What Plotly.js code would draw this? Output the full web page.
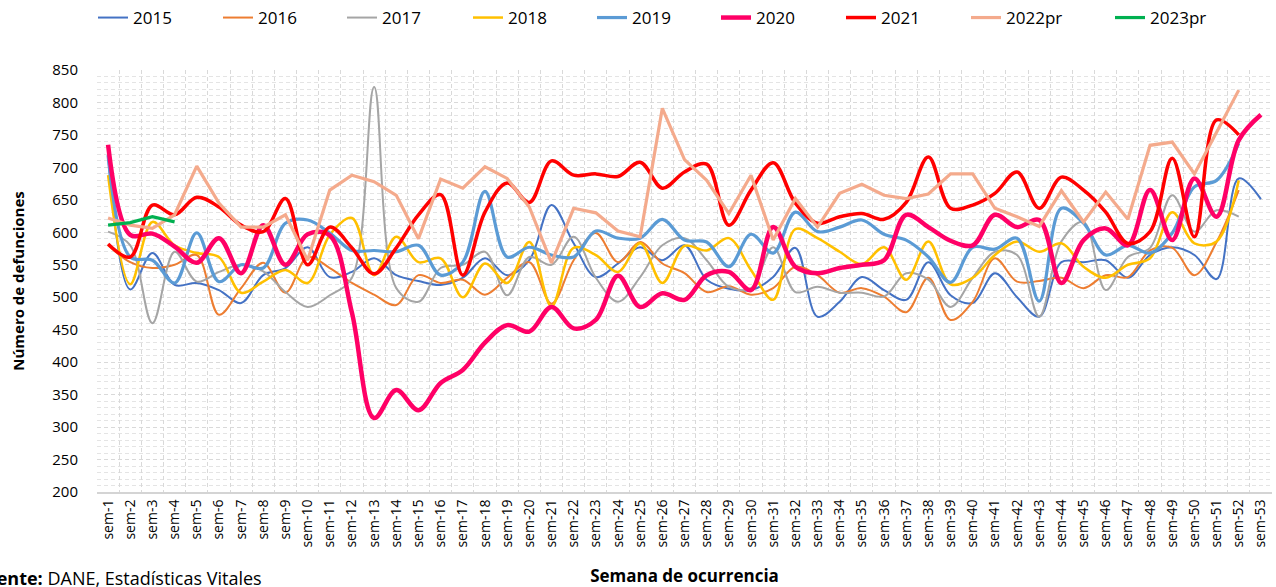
<!DOCTYPE html>
<html><head><meta charset="utf-8">
<script src="https://cdn.plot.ly/plotly-3.0.1.min.js"></script>
<style>html,body{margin:0;padding:0;background:#fff}#chart{width:1276px;height:587px}</style>
</head><body><div id="chart"></div>
<script>
const weeks = ["sem-1","sem-2","sem-3","sem-4","sem-5","sem-6","sem-7","sem-8","sem-9","sem-10",
"sem-11","sem-12","sem-13","sem-14","sem-15","sem-16","sem-17","sem-18","sem-19","sem-20",
"sem-21","sem-22","sem-23","sem-24","sem-25","sem-26","sem-27","sem-28","sem-29","sem-30",
"sem-31","sem-32","sem-33","sem-34","sem-35","sem-36","sem-37","sem-38","sem-39","sem-40",
"sem-41","sem-42","sem-43","sem-44","sem-45","sem-46","sem-47","sem-48","sem-49","sem-50",
"sem-51","sem-52","sem-53"];

const y2015 = [719,512,568,519,522,511,491,534,545,577,531,539,560,534,525,519,530,560,534,557,
642,583,531,552,577,557,580,527,513,511,531,576,470,493,531,511,496,554,503,491,537,500,470,554,
554,557,530,565,577,565,528,683,651];
const y2016 = [580,554,545,550,565,473,514,553,507,562,545,522,504,488,534,522,527,504,530,554,
490,557,599,554,585,552,537,508,517,504,514,547,534,507,514,501,477,530,465,493,560,524,525,530,
514,534,531,572,576,534,585,665];
const y2017 = [601,580,460,570,524,539,550,540,508,485,503,530,824,514,493,545,550,570,503,562,
550,593,530,493,531,580,591,557,516,514,577,508,516,507,507,501,537,527,485,530,570,565,470,586,
616,511,562,576,657,601,634,624];
const y2018 = [688,520,616,580,568,562,507,524,542,522,596,622,534,593,554,560,500,552,522,585,
486,576,565,539,583,522,579,572,591,542,496,605,591,570,551,577,527,586,520,530,565,586,570,583,
547,530,550,560,631,583,586,680];
const y2019 = [719,562,557,522,599,524,550,545,614,619,599,572,572,570,580,534,554,663,562,577,
565,562,602,591,591,620,588,585,547,597,568,631,601,608,619,597,588,562,523,577,574,591,494,637,
614,565,580,568,599,670,680,737];
const y2020 = [735,596,598,578,553,591,537,611,550,597,595,476,314,357,326,368,388,430,457,447,
485,452,465,533,485,506,496,534,539,511,608,547,537,545,550,557,627,608,587,580,627,608,619,522,
588,606,580,665,588,683,624,742,781];
const y2021 = [582,562,642,627,654,639,611,601,652,550,608,576,536,576,627,658,534,631,676,646,
710,688,690,686,708,668,693,705,611,665,707,645,614,624,629,620,646,716,637,642,660,693,637,685,
665,631,583,601,714,593,773,750];
const y2022 = [622,611,606,627,702,645,608,608,627,557,665,688,678,657,590,682,668,701,683,639,
553,637,630,602,593,791,712,680,629,688,588,652,608,660,674,657,652,659,690,690,637,624,609,664,
616,662,620,734,739,690,754,819];
const y2023 = [611,615,624,616];

const seriesNames = ["2015","2016","2017","2018","2019","2020","2021","2022pr","2023pr"];
const seriesData = [y2015,y2016,y2017,y2018,y2019,y2020,y2021,y2022,y2023];
const colors = ["#4472C4","#ED7D31","#A5A5A5","#FFC000","#5B9BD5","#FF0066","#FF0000","#F4AA8C","#00B050"];
const widths = [2,2,2,2.5,3.2,4.5,3.5,3.2,3.2];
const shapes = ["spline","spline","spline","spline","spline","spline","spline","linear","linear"];
// left edge (px) of each legend label text
const legendTextX = [135,260,384,510,634,758,883,1008,1152];

const font = "Open Sans, Noto Sans, sans-serif";
const legendKey = i => i === 0 ? "legend" : "legend" + (i + 1);

const traces = seriesNames.map((n,i)=>({
  type:"scatter", mode:"lines", name:n, legend: legendKey(i),
  x: weeks.slice(0, seriesData[i].length), y: seriesData[i],
  line:{color:colors[i], width:widths[i], shape:shapes[i], smoothing:1}
}));

const layout = {
  width:1276, height:587,
  margin:{l:97, r:4, t:70, b:95},
  paper_bgcolor:"#fff", plot_bgcolor:"#fff",
  font:{family:font, size:14, color:"#000"},
  showlegend:true,
  xaxis:{type:"category", range:[-0.5,52.5], tickson:"boundaries", ticks:"",
    showgrid:true, gridcolor:"#d9d9d9", griddash:"4px,3px", gridwidth:1,
    showline:true, linecolor:"#d4d4d4", linewidth:2, zeroline:false,
    tickangle:-90, tickfont:{family:font, size:14, color:"#000"},
    title:{text:"<b>Semana de ocurrencia</b>", font:{family:font, size:17, color:"#000"}, standoff:26},
    automargin:false, fixedrange:true},
  yaxis:{range:[200,850], tick0:200, dtick:50, ticks:"", showline:false, zeroline:false,
    showgrid:true, gridcolor:"#d9d9d9", griddash:"4px,3px", gridwidth:1,
    minor:{dtick:10, showgrid:true, gridcolor:"#e4e4e4", griddash:"4px,3px", gridwidth:1},
    tickfont:{family:font, size:15, color:"#000"}, ticklabelstandoff:18,
    title:{text:"<b>Número de defunciones</b>", font:{family:font, size:15, color:"#000"}, standoff:24},
    automargin:false, fixedrange:true},
  annotations:[{xref:"paper", yref:"paper", x:(264-97)/1175, y:(492-578)/422, xanchor:"right", yanchor:"middle",
    showarrow:false, text:"<b>Fuente:</b> DANE, Estadísticas Vitales", font:{family:font, size:18, color:"#000"}}]
};
seriesNames.forEach((n,i)=>{
  layout[legendKey(i)] = {orientation:"h", xref:"container", yref:"container",
    x:(legendTextX[i]-42)/1276, xanchor:"left", y:1-18/587, yanchor:"middle",
    font:{family:font, size:17, color:"#000"}, bgcolor:"rgba(0,0,0,0)", borderwidth:0};
});

Plotly.newPlot("chart", traces, layout, {staticPlot:true, displayModeBar:false});
</script>
</body></html>
